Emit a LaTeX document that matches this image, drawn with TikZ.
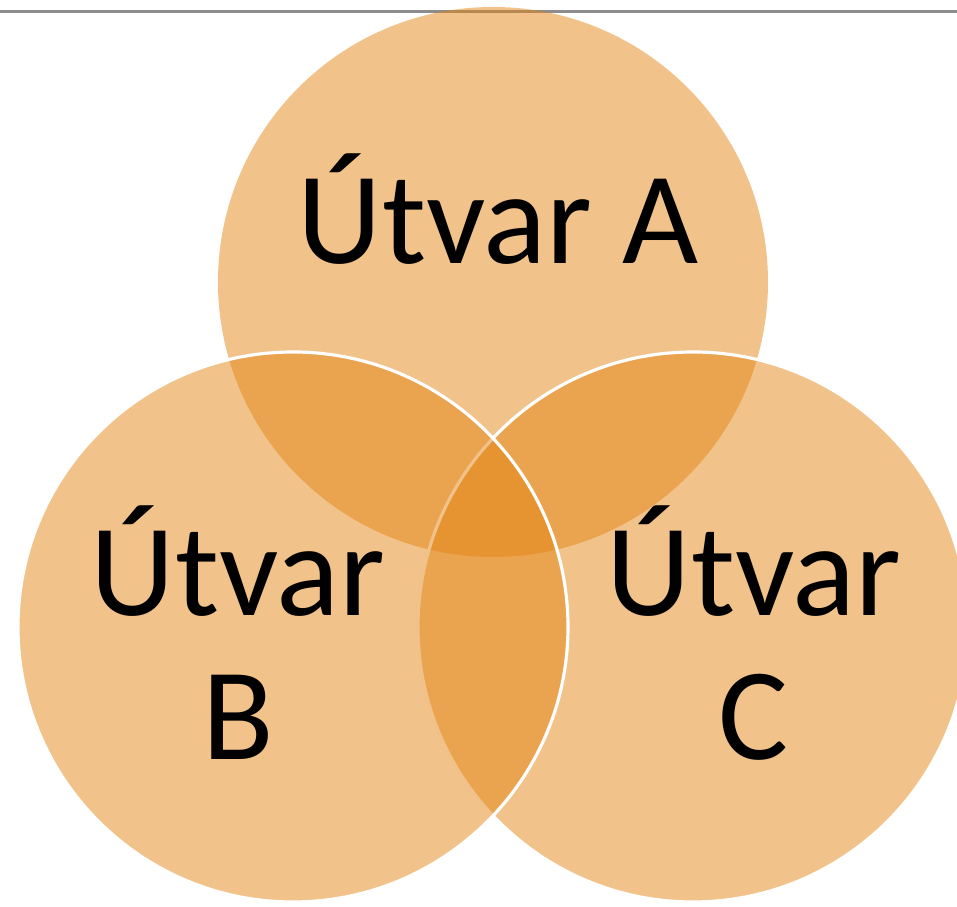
\documentclass[tikz,border=0pt]{standalone}
\usepackage{fontspec}
\setmainfont{Carlito}

\definecolor{vennorange}{RGB}{227,133,21}
\definecolor{rulegray}{RGB}{140,140,140}

\tikzset{
    setfill/.style={fill=vennorange, fill opacity=0.5},
    setedge/.style={draw=white, line width=0.9pt},
    setlabel/.style={font=\fontsize{37.4}{41}\selectfont, align=center, anchor=base}
}

\begin{document}
\begin{tikzpicture}
    \useasboundingbox (0,0) rectangle (9.57,9.07);

    % Rule at the top
    \coordinate (ruleL) at (0,8.955);
    \coordinate (ruleR) at (9.57,8.955);
    \draw[rulegray, line width=0.6pt] (ruleL) -- (ruleR);

    % Circles (A below, then C, then B on top)
    \fill[setfill] (4.93,6.25) circle (2.75);
    \draw[setfill, setedge] (6.93,2.80) circle (2.75);
    \draw[setfill, setedge] (2.93,2.80) circle (2.75);

    % Labels (base sits on the last line)
    \node[setlabel] (labA) at (4.98,6.43) {Útvar A};
    \node[setlabel] (labB) at (2.38,1.47) {Útvar\\B};
    \node[setlabel] (labC) at (7.54,1.47) {Útvar\\C};
\end{tikzpicture}
\end{document}
